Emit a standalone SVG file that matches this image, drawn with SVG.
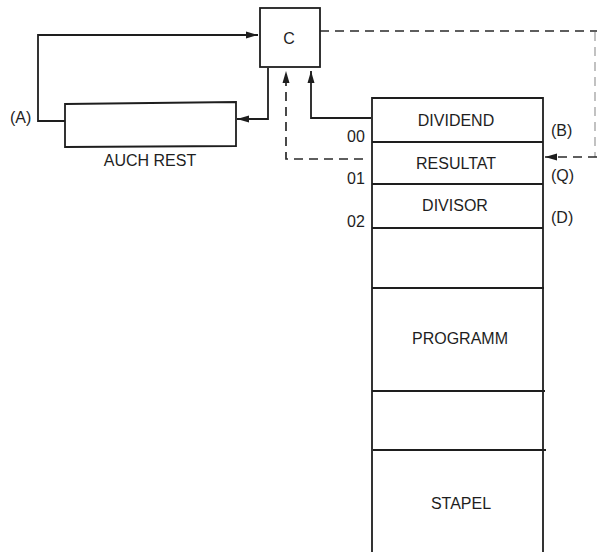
<svg xmlns="http://www.w3.org/2000/svg" width="597" height="552" viewBox="0 0 597 552">
<defs>
<style>
.ln{fill:none;stroke:#1e1e1e;stroke-width:1.8}
.ds{fill:none;stroke:#2a2a2a;stroke-width:1.7;stroke-dasharray:9 6}
.bx{fill:#fff;stroke:#1e1e1e;stroke-width:1.8}
text{font-family:"Liberation Sans",Arial,sans-serif;font-size:16px;fill:#1e1e1e}
.c{text-anchor:middle}
</style>
<marker id="ah" viewBox="0 0 12 8" refX="12" refY="4" markerWidth="12" markerHeight="8" markerUnits="userSpaceOnUse" orient="auto">
<path d="M0,0.5 L12,4 L0,7.5 Z" fill="#1e1e1e"/>
</marker>
</defs>
<rect width="597" height="552" fill="#fff"/>

<g id="connectors">
<path class="ln" d="M65,121 H38 V35 H258" marker-end="url(#ah)"/>
<path class="ln" d="M268,68 V119 H237" marker-end="url(#ah)"/>
<path class="ln" d="M371,118 H311 V71" marker-end="url(#ah)"/>
<path class="ds" d="M363,159 H286 V71" marker-end="url(#ah)"/>
<path class="ds" d="M320,31 H597"/>
<path fill="none" stroke="#999" stroke-width="1.2" stroke-dasharray="9 6" d="M595,32 V157"/>
<path class="ds" d="M597,157 H545" marker-end="url(#ah)"/>
</g>

<g id="C">
<rect class="bx" x="260" y="8" width="60" height="59"/>
<text class="c" x="289" y="44">C</text>
</g>

<g id="auch-rest">
<path class="bx" d="M65,104 L236,102 L236,146 L65,147 Z"/>
<text class="c" x="150" y="166">AUCH REST</text>
</g>
<text x="10" y="123">(A)</text>

<g id="memory">
<path class="ln" d="M372,552 V98 H543 V552"/>
<path class="ln" d="M372,142 H543 M372,184 H543 M372,228 H543 M372,288 H544 M372,391 H545 M373,450 H546"/>
<text class="c" x="456" y="126">DIVIDEND</text>
<text class="c" x="456" y="169">RESULTAT</text>
<text class="c" x="455" y="211">DIVISOR</text>
<text class="c" x="460" y="344">PROGRAMM</text>
<text class="c" x="461" y="509">STAPEL</text>
</g>

<g id="labels">
<text x="347" y="142">00</text>
<text x="347" y="184">01</text>
<text x="347" y="227">02</text>
<text x="551" y="136">(B)</text>
<text x="551" y="181">(Q)</text>
<text x="551" y="223">(D)</text>
</g>
</svg>
